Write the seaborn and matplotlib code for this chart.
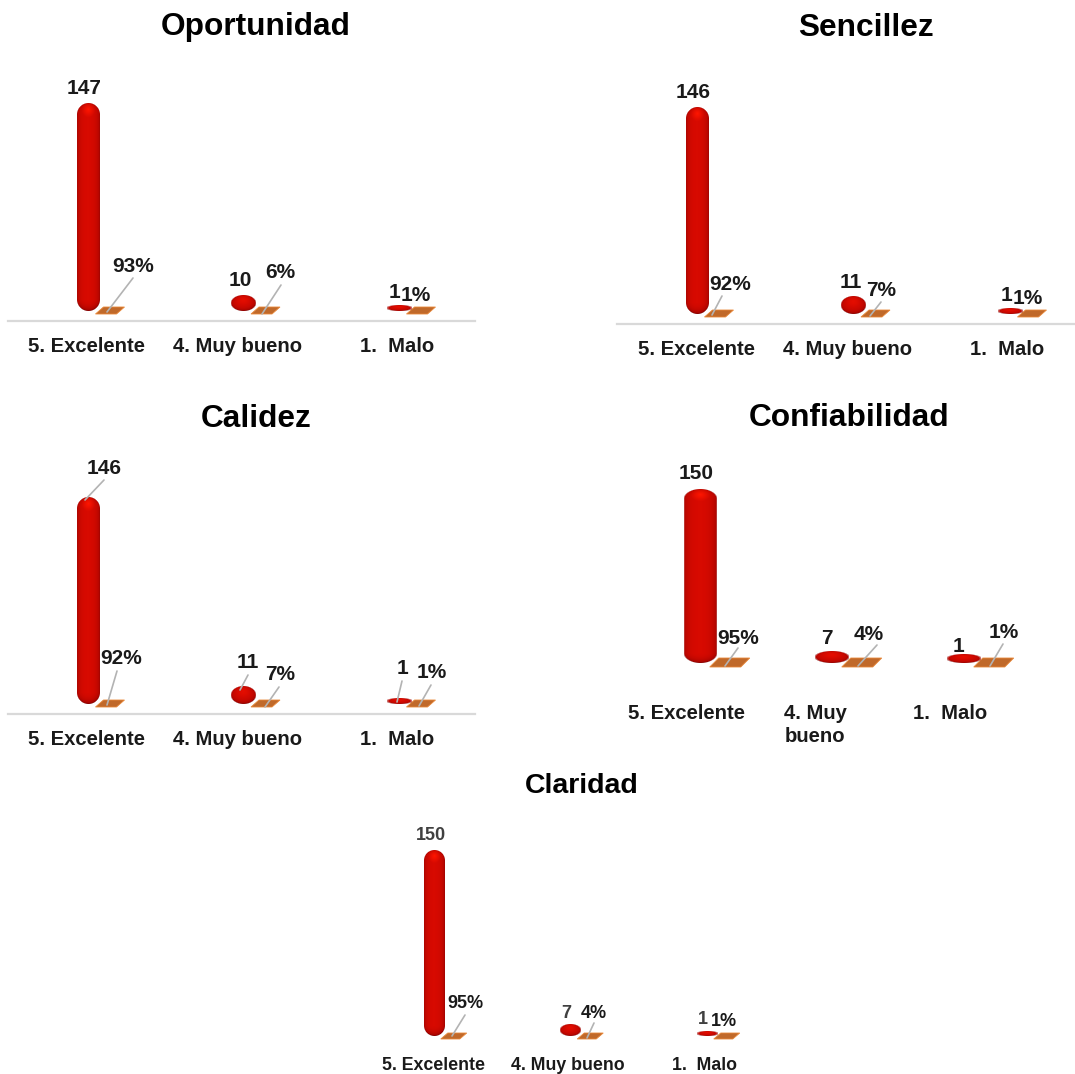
import numpy as np
import pandas as pd
import matplotlib
matplotlib.use("Agg")
import matplotlib.pyplot as plt
from matplotlib.lines import Line2D
from matplotlib.patches import Polygon
from matplotlib.transforms import IdentityTransform
import seaborn as sns

# ---------- data ----------
titles = ["Oportunidad", "Sencillez", "Calidez", "Confiabilidad", "Claridad"]
categories = ["5. Excelente", "4. Muy bueno", "1.  Malo"]
categories_wrapped = ["5. Excelente", "4. Muy\nbueno", "1.  Malo"]
oportunidad_n = [147, 10, 1]
oportunidad_pct = [93, 6, 1]
sencillez_n = [146, 11, 1]
sencillez_pct = [92, 7, 1]
calidez_n = [146, 11, 1]
calidez_pct = [92, 7, 1]
confiabilidad_n = [150, 7, 1]
confiabilidad_pct = [95, 4, 1]
claridad_n = [150, 7, 1]
claridad_pct = [95, 4, 1]

W, H = 1075, 1074
sns.set_theme(style="white")
plt.rcParams["font.family"] = ["Liberation Sans", "DejaVu Sans"]

# ---------- layout, in reference pixels (y from the top) ----------
panels = [
    dict(title=(256, 26.5), tfs=22.8, cats=categories, n=oportunidad_n, pct=oportunidad_pct,
         axis=(8, 475), line=321, zero=311, first=99, step=155.5, dodge=22, k=1.395, cap=2, minh=6,
         rw=23, srw=25, fry=1.0, ow=21, slant=8, oh=(4, 3), ticks=(86, 238, 397), pad=16, cfs=14.6, fs=15,
         ctext="#1a1a1a", show_line=True, top=70,
         nlab=[(84, 88), (240, 281), (394, 293)], plab=[(133, 266), (280, 273), (416, 295)],
         lead=[(133, 278, 107, 312), (281, 285, 262, 314)]),
    dict(title=(866, 28), tfs=22.8, cats=categories, n=sencillez_n, pct=sencillez_pct,
         axis=(617, 1075), line=324, zero=314, first=708, step=156.5, dodge=22, k=1.40, cap=2, minh=6,
         rw=23, srw=25, fry=1.0, ow=21, slant=8, oh=(4, 3), ticks=(696, 848, 1007), pad=16, cfs=14.6, fs=15,
         ctext="#1a1a1a", show_line=True, top=70,
         nlab=[(693, 92), (851, 282), (1006, 296)], plab=[(730, 285), (881, 291), (1028, 298)],
         lead=[(722, 296, 712, 315), (881, 302, 870, 316)]),
    dict(title=(256, 419), tfs=22.8, cats=categories, n=calidez_n, pct=calidez_pct,
         axis=(8, 475), line=714, zero=704, first=99, step=155.5, dodge=22, k=1.40, cap=2, minh=6,
         rw=23, srw=25, fry=1.0, ow=21, slant=8, oh=(4, 3), ticks=(86, 238, 397), pad=16, cfs=14.6, fs=15,
         ctext="#1a1a1a", show_line=True, top=460,
         nlab=[(104, 469), (248, 662), (402, 669)], plab=[(121, 659), (280, 675), (432, 673)],
         lead=[(104, 480, 85, 500), (117, 671, 107, 705), (248, 675, 240, 690),
               (279, 687, 265, 707), (402, 681, 397, 702), (431, 685, 419, 706)]),
    dict(title=(849, 418), tfs=22.8, cats=categories_wrapped, n=confiabilidad_n, pct=confiabilidad_pct,
         axis=(640, 1040), line=673, zero=663, first=715, step=132, dodge=29.5, k=1.133, cap=4, minh=9,
         rw=33, srw=34, fry=0.6, ow=31, slant=9, oh=(5, 4), ticks=(686, 815, 950), pad=31, cfs=14.6, fs=15,
         ctext="#1a1a1a", show_line=False, top=450,
         nlab=[(696, 474), (827, 639), (959, 646)], plab=[(738, 638), (869, 634), (1004, 633)],
         lead=[(738, 648, 725, 666), (877, 645, 858, 666), (1003, 644, 990, 666)]),
    dict(title=(582, 786), tfs=20.5, cats=categories, n=claridad_n, pct=claridad_pct,
         axis=(380, 760), line=1046, zero=1036, first=444, step=136.5, dodge=19.5, k=1.22, cap=3, minh=5,
         rw=21, srw=21, fry=1.0, ow=19, slant=7, oh=(3, 3), ticks=(434, 568, 705), pad=11, cfs=12.8, fs=13,
         ctext="#404040", show_line=False, top=815,
         nlab=[(431, 836), (566, 1013), (703, 1019)], plab=[(465, 1004), (594, 1013), (724, 1022)],
         lead=[(465, 1015, 452, 1036), (594, 1023, 587, 1038)]),
]


def capsule_image(w, h, ry):
    """RGBA shading of a lit capsule / ellipse, w x h pixels."""
    nx, ny = int(np.ceil(w)), int(np.ceil(h))
    xs = (np.arange(nx) + 0.5) / nx * w - w / 2
    ys = (np.arange(ny) + 0.5) / ny * h          # from the top
    X, Y = np.meshgrid(xs, ys)
    dy = np.where(Y < ry, Y - ry, np.where(Y > h - ry, Y - (h - ry), 0.0))
    u, v = X / (w / 2), dy / ry
    d = np.sqrt(u ** 2 + v ** 2)
    z = np.sqrt(np.clip(1 - d ** 2, 0, 1))
    light = np.array([-0.05, -0.25, 0.97])
    s = np.clip(u * light[0] + v * light[1] + z * light[2], 0, 1) ** 0.55
    dark, bright = np.array([0.50, 0.0, 0.0]), np.array([0.85, 0.04, 0.0])
    rgb = dark[None, None] + (bright - dark)[None, None] * s[..., None]
    cap = min(ry, h / 2)
    spot = np.clip(1 - np.sqrt(X ** 2 / (w * 0.3) ** 2 + (Y - cap * 0.55) ** 2 / (cap * 0.7) ** 2), 0, 1)
    amount = 0.15 if h > w else 0.05
    rgb[..., 0] = np.clip(rgb[..., 0] + amount * spot, 0, 1)
    rgb[..., 1] = np.clip(rgb[..., 1] + amount * 0.3 * spot, 0, 1)
    alpha = np.clip((1 - d) * min(w / 2, ry) + 0.5, 0, 1)
    return np.dstack([rgb, alpha])


fig = plt.figure(figsize=(W / 100, H / 100), dpi=100, facecolor="white")

for idx, p in enumerate(panels):
    x0, x1 = p["axis"]
    ytop, ybot = p["top"], p["line"]
    ax = fig.add_axes([x0 / W, 1 - ybot / H, (x1 - x0) / W, (ybot - ytop) / H], facecolor="none")
    df = pd.DataFrame({
        "categoria": list(range(3)) * 2,
        "serie": ["n"] * 3 + ["pct"] * 3,
        "valor": list(p["n"]) + [v / 100 for v in p["pct"]],
    })
    sns.barplot(data=df, x="categoria", y="valor", hue="serie", order=[0, 1, 2],
                palette={"n": "#c80a00", "pct": "#c0692a"},
                width=2 * p["dodge"] / p["step"], legend=False, ax=ax)
    xlim = ((x0 - p["first"]) / p["step"], (x1 - p["first"]) / p["step"])
    ylim = (-(ybot - p["zero"]) / p["k"], (p["zero"] - ytop) / p["k"])
    ax.set_xlim(*xlim)
    ax.set_ylim(*ylim)
    ax.set_xlabel("")
    ax.set_ylabel("")
    ax.set_yticks([])
    ax.set_xticks([(t - p["first"]) / p["step"] for t in p["ticks"]], p["cats"])
    ax.tick_params(axis="x", length=0, pad=p["pad"] * 0.72, labelsize=p["cfs"], labelcolor="#1a1a1a")
    for lab in ax.get_xticklabels():
        lab.set_fontweight("bold")
        lab.set_linespacing(1.25)
    sns.despine(ax=ax, left=True, bottom=not p["show_line"])
    ax.spines["bottom"].set_color("#d9d9d9")
    ax.spines["bottom"].set_linewidth(1.6)

    # counts: capsule from each seaborn bar
    for bar in ax.containers[0]:
        cx = bar.get_x() + bar.get_width() / 2
        px, py0 = ax.transData.transform((cx, 0))
        _, py1 = ax.transData.transform((cx, bar.get_height()))
        h = max(py1 - py0 + p["cap"], p["minh"])
        w = p["rw"] if h > 30 else p["srw"]
        ry = min(h / 2, w / 2 * p["fry"])
        bar.set_alpha(0)
        ax.imshow(capsule_image(w, h, ry), extent=(px - w / 2, px + w / 2, py0, py0 + h),
                  transform=IdentityTransform(), aspect="auto", interpolation="bilinear",
                  zorder=3, clip_on=False)
    # percentages: flat floor tile from each seaborn bar
    for bar in ax.containers[1]:
        cx = bar.get_x() + bar.get_width() / 2
        px, py0 = ax.transData.transform((cx, 0))
        up, dn = p["oh"]
        hw, sl = p["ow"] / 2, p["slant"] / 2
        bar.set_alpha(0)
        ax.add_patch(Polygon([(px - hw - sl, py0 - dn), (px + hw - sl, py0 - dn),
                              (px + hw + sl, py0 + up), (px - hw + sl, py0 + up)], closed=True,
                             transform=IdentityTransform(), facecolor="#c0692a",
                             edgecolor="#e8883a", linewidth=0.6, zorder=2, clip_on=False))
    ax.set_xlim(*xlim)
    ax.set_ylim(*ylim)
    ax.set_aspect("auto")

    fig.text(p["title"][0] / W, 1 - p["title"][1] / H, titles[idx], ha="center", va="center",
             fontsize=p["tfs"], fontweight="bold", color="black")
    for v, (tx, ty) in zip(p["n"], p["nlab"]):
        fig.text(tx / W, 1 - ty / H, str(v), ha="center", va="center", fontsize=p["fs"],
                 fontweight="bold", color=p["ctext"], zorder=6)
    for v, (tx, ty) in zip(p["pct"], p["plab"]):
        fig.text(tx / W, 1 - ty / H, f"{v}%", ha="center", va="center", fontsize=p["fs"],
                 fontweight="bold", color="#1a1a1a", zorder=6)
    for (a, b, c, d) in p["lead"]:
        fig.add_artist(Line2D([a, c], [H - b, H - d], transform=IdentityTransform(),
                              color="#b3b3b3", linewidth=1.2, zorder=5))

fig.savefig("out.png", dpi=100)
